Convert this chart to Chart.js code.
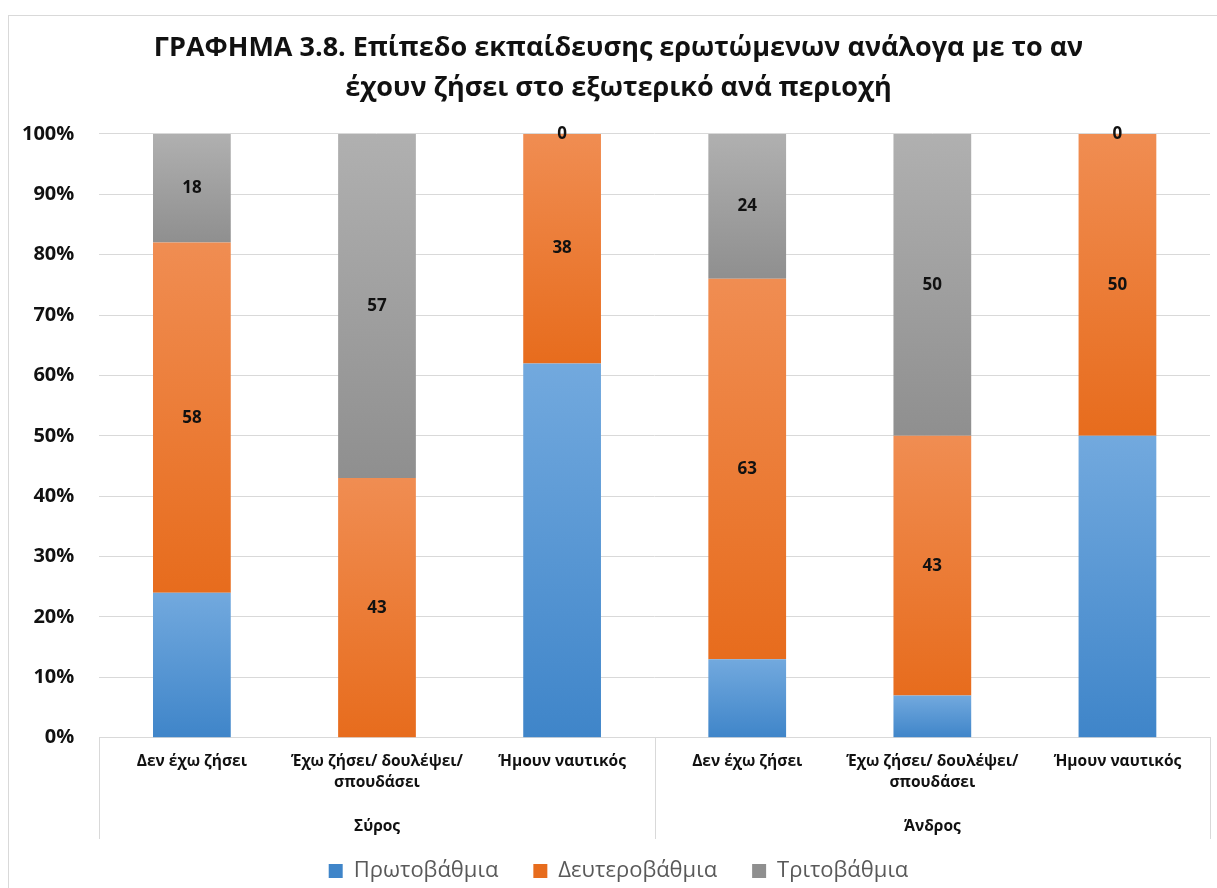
<!DOCTYPE html>
<html>
<head>
  <meta charset="utf-8">
  <title>ΓΡΑΦΗΜΑ 3.8</title>
  <script src="https://cdn.jsdelivr.net/npm/chart.js"></script>
  <style>
    body {
      margin: 0;
      background-color: #ffffff;
      overflow: hidden;
      width: 1217px;
      height: 888px;
    }
    #frame {
      position: absolute;
      left: 8px;
      top: 15px;
      width: 1231px;
      height: 880px;
      border-left: 1px solid #d9d9d9;
      border-top: 1px solid #d9d9d9;
    }
  </style>
</head>
<body>
  <div id="frame">
    <canvas id="grafima" width="1231" height="876"></canvas>
  </div>

  <script>
    // kathgories (x) kai perioxes (omades)
    var categories = [
      ["Δεν έχω ζήσει"],
      ["Έχω ζήσει/ δουλέψει/", "σπουδάσει"],
      ["Ήμουν ναυτικός"],
      ["Δεν έχω ζήσει"],
      ["Έχω ζήσει/ δουλέψει/", "σπουδάσει"],
      ["Ήμουν ναυτικός"]
    ];
    var regions = ["Σύρος", "Άνδρος"];

    // epipedo ekpaideusis (%)
    var protovathmia = [24, 0, 62, 13, 7, 50];
    var defterovathmia = [58, 43, 38, 63, 43, 50];
    var tritovathmia = [18, 57, 0, 24, 50, 0];

    var seriesNames = ["Πρωτοβάθμια", "Δευτεροβάθμια", "Τριτοβάθμια"];
    var yTicks = [0, 10, 20, 30, 40, 50, 60, 70, 80, 90, 100];

    var allSeries = [protovathmia, defterovathmia, tritovathmia];
    var solid = ["#5b9bd5", "#ed7d31", "#a5a5a5"];
    var shades = [
      ["#72a9de", "#3f85c9"],
      ["#f08d52", "#e76c1d"],
      ["#b0b0b0", "#8f8f8f"]
    ];

    function barFill(context) {
      var di = context.datasetIndex;
      var i = context.dataIndex;
      var chart = context.chart;
      if (i === undefined || !chart.chartArea || !chart.scales.y) return solid[di];
      var start = 0;
      for (var k = 0; k < di; k++) start += allSeries[k][i];
      var end = start + allSeries[di][i];
      var y0 = chart.scales.y.getPixelForValue(start);
      var y1 = chart.scales.y.getPixelForValue(end);
      if (!isFinite(y0) || !isFinite(y1) || y0 === y1) return solid[di];
      var g = chart.ctx.createLinearGradient(0, y1, 0, y0);
      g.addColorStop(0, shades[di][0]);
      g.addColorStop(1, shades[di][1]);
      return g;
    }

    // etiketes timon mono gia Defterovathmia kai Tritovathmia
    var valueLabels = {
      id: "valueLabels",
      afterDatasetsDraw: function (chart) {
        var ctx = chart.ctx;
        ctx.save();
        ctx.font = "bold 17px 'Open Sans'";
        ctx.fillStyle = "#111111";
        ctx.textAlign = "center";
        ctx.textBaseline = "middle";
        [1, 2].forEach(function (di) {
          var meta = chart.getDatasetMeta(di);
          meta.data.forEach(function (bar, i) {
            var y = (bar.y + bar.base) / 2;
            ctx.fillText(String(allSeries[di][i]), bar.x, y);
          });
        });
        ctx.restore();
      }
    };

    // diaxoristika grammes gia tis perioxes
    var groupLines = {
      id: "groupLines",
      afterDraw: function (chart) {
        var x = chart.scales.x;
        var x2 = chart.scales.x2;
        var ctx = chart.ctx;
        ctx.save();
        ctx.strokeStyle = "#d9d9d9";
        ctx.lineWidth = 1;
        [-0.5, 2.5, 5.5].forEach(function (v) {
          var px = Math.round(x.getPixelForValue(v)) + 0.5;
          ctx.beginPath();
          ctx.moveTo(px, chart.chartArea.bottom);
          ctx.lineTo(px, x2.bottom - 8);
          ctx.stroke();
        });
        ctx.restore();
      }
    };

    var ctx = document.getElementById("grafima").getContext("2d");
    var chart = new Chart(ctx, {
      type: "bar",
      data: {
        labels: categories,
        datasets: allSeries.map(function (values, k) {
          return {
            label: seriesNames[k],
            data: values,
            backgroundColor: barFill,
            borderWidth: 0,
            categoryPercentage: 1,
            barPercentage: 0.42
          };
        })
      },
      options: {
        responsive: false,
        animation: false,
        layout: {
          padding: { left: -12, right: 0, top: 0, bottom: 0 }
        },
        plugins: {
          title: {
            display: true,
            text: [
              "ΓΡΑΦΗΜΑ 3.8. Επίπεδο εκπαίδευσης ερωτώμενων ανάλογα με το αν",
              "έχουν ζήσει στο εξωτερικό ανά περιοχή"
            ],
            color: "#111111",
            font: { family: "'Open Sans'", size: 27, weight: "bold", lineHeight: 1.48 },
            padding: { top: 12, bottom: 26 }
          },
          legend: {
            position: "bottom",
            labels: {
              color: "#595959",
              font: { family: "'Open Sans'", size: 22 },
              boxWidth: 14,
              boxHeight: 14,
              padding: 13,
              generateLabels: function (chart) {
                var items = Chart.defaults.plugins.legend.labels.generateLabels(chart);
                items.forEach(function (item, k) {
                  if (k < items.length - 1) item.text = item.text + "\u2002\u2002";
                });
                return items;
              }
            }
          },
          tooltip: { enabled: false }
        },
        scales: {
          x: {
            stacked: true,
            grid: { display: false },
            border: { color: "#d9d9d9" },
            ticks: {
              color: "#111111",
              font: { family: "'Open Sans'", size: 15.5, weight: "bold", lineHeight: 1.36 },
              padding: 5,
              maxRotation: 0,
              autoSkip: false
            }
          },
          x2: {
            type: "category",
            labels: regions,
            position: "bottom",
            offset: true,
            grid: { display: false },
            border: { display: false },
            ticks: {
              color: "#111111",
              font: { family: "'Open Sans'", size: 15.5, weight: "bold", lineHeight: 1.36 },
              padding: 10
            }
          },
          y: {
            stacked: true,
            min: 0,
            max: 100,
            afterBuildTicks: function (scale) {
              scale.ticks = yTicks.map(function (v) { return { value: v }; });
            },
            grid: { color: "#d9d9d9", drawTicks: false },
            border: { display: false },
            ticks: {
              color: "#111111",
              font: { family: "'Open Sans'", size: 20, weight: "bold" },
              padding: 25,
              callback: function (v) { return v + "%"; }
            }
          },
          yRight: {
            type: "linear",
            position: "right",
            display: true,
            grid: { display: false },
            border: { display: false },
            ticks: { display: false },
            afterFit: function (scale) { scale.width = 30; }
          }
        }
      },
      plugins: [valueLabels, groupLines]
    });
  </script>
</body>
</html>
